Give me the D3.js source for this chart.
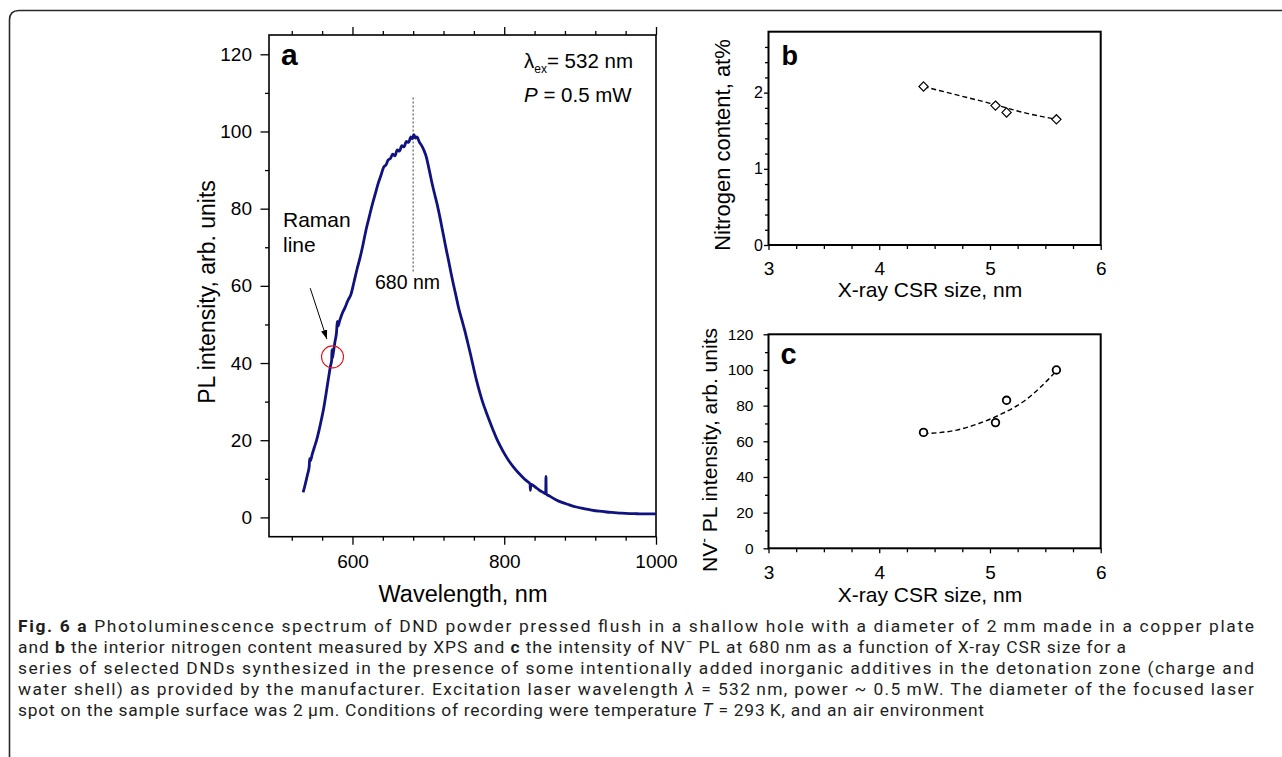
<!DOCTYPE html>
<html>
<head>
<meta charset="utf-8">
<script src="https://cdn.jsdelivr.net/npm/d3@7"></script>
<style>
  html, body { margin: 0; padding: 0; background: #fff; }
  svg { display: block; }
  .ax text { font-family: "Liberation Sans", Arial, sans-serif; fill: #000; }
  .ax line { stroke: #000; stroke-width: 1.3; }
  .ax path { display: none; }
</style>
</head>
<body>
<script>
// ---- Panel a: PL spectrum ----
const wavelength = [535, 537, 539, 541, 543, 543.6, 544.5, 547, 550, 553, 556, 559, 562, 565, 568, 571,
  572.6, 573, 573.4, 575, 577, 579, 580, 581, 583, 586, 590, 594, 598, 602, 606, 610, 614, 618, 622,
  626, 630, 634, 638, 641, 644, 647, 650, 653, 656, 659, 662, 665, 668, 671, 674, 677, 679, 681, 683,
  685, 688, 691, 694, 697, 700, 703, 706, 709, 712, 715, 718, 721, 724, 727, 730, 733, 736, 740, 744,
  748, 752, 756, 760, 764, 768, 772, 776, 780, 785, 790, 795, 800, 806, 812, 818, 824, 830, 834, 834.5,
  835, 840, 846, 852, 854.7, 855, 855.3, 860, 868, 876, 885, 895, 905, 915, 925, 935, 945, 955, 965,
  975, 985, 1000];
const intensity = [6.5, 8.0, 9.6, 11.3, 13.2, 15.2, 14.6, 16.4, 18.3, 20.2, 22.6, 25.3, 28.2, 31.8, 35.6, 39.2,
  40.8, 43.5, 41.2, 43.0, 45.6, 48.0, 50.8, 49.6, 50.9, 52.6, 54.3, 56.2, 57.8, 61.0, 64.3, 67.3, 70.8, 74.6, 77.8,
  81.0, 83.8, 86.6, 88.9, 90.7, 91.3, 92.6, 93.0, 94.1, 93.7, 95.2, 94.9, 96.3, 96.0, 97.4, 97.2, 98.6, 98.1, 99.2, 98.3,
  98.6, 97.3, 96.4, 95.2, 93.6, 91.1, 88.3, 85.6, 83.2, 80.8, 78.0, 75.0, 72.0, 69.0, 66.2, 63.2, 60.4, 57.8, 54.2, 51.3,
  48.4, 45.2, 41.9, 38.4, 35.1, 32.2, 29.6, 27.4, 25.3, 22.8, 20.4, 18.4, 16.6, 14.7, 13.1, 11.7, 10.5, 9.4, 8.7, 7.0,
  8.6, 8.0, 7.1, 6.4, 6.1, 10.6, 6.1, 5.5, 4.6, 3.9, 3.3, 2.7, 2.3, 1.9, 1.6, 1.4, 1.25, 1.1, 1.0,
  0.95, 0.9, 0.9];
const aXMajor = [600, 800, 1000];
const aXMinor = [520, 560, 640, 680, 720, 760, 840, 880, 920, 960];
const aYMajor = [0, 20, 40, 60, 80, 100, 120];
const aYMinor = [10, 30, 50, 70, 90, 110];
const peakWavelength = 680;
const ramanLine = { x: 573.7, y: 41.6 };

// ---- Panel b: nitrogen content vs CSR size ----
const csrSize = [4.4, 5.05, 5.15, 5.6];
const nitrogen = [2.08, 1.83, 1.74, 1.65];
const nitrogenTrendX = [4.4, 4.7, 5.0, 5.3, 5.6];
const nitrogenTrendY = [2.08, 1.97, 1.86, 1.74, 1.65];
const bYMajor = [0, 1, 2];
const bYMinor = [0.2, 0.4, 0.6, 0.8, 1.2, 1.4, 1.6, 1.8, 2.2, 2.4, 2.6];

// ---- Panel c: NV- PL intensity vs CSR size ----
const nvIntensity = [65, 70.5, 83, 100];
const nvTrendX = [4.4, 4.7, 4.9, 5.1, 5.3, 5.45, 5.6];
const nvTrendY = [64.3, 66.3, 70.0, 75.2, 82.2, 90.0, 99.5];
const cYMajor = [0, 20, 40, 60, 80, 100, 120];
const cYMinor = [10, 30, 50, 70, 90, 110];

const csrMajor = [3, 4, 5, 6];
const csrMinor = [3.25, 3.5, 3.75, 4.25, 4.5, 4.75, 5.25, 5.5, 5.75];

// ---- Caption lines ----
const captionLines = [
  { parts: [["Fig. 6 a", "b"], [" Photoluminescence spectrum of DND powder pressed flush in a shallow hole with a diameter of 2\u2009mm made in a copper plate"]], len: 1236 },
  { parts: [["and "], ["b", "b"], [" the interior nitrogen content measured by XPS and "], ["c", "b"], [" the intensity of NV"], ["\u2212", "sup"], [" PL at 680\u2009nm as a function of X-ray CSR size for a"]], len: 1108 },
  { parts: [["series of selected DNDs synthesized in the presence of some intentionally added inorganic additives in the detonation zone (charge and"]], len: 1236 },
  { parts: [["water shell) as provided by the manufacturer. Excitation laser wavelength "], ["\u03bb", "i"], [" = 532\u2009nm, power ~ 0.5\u2009mW. The diameter of the focused laser"]], len: 1236 },
  { parts: [["spot on the sample surface was 2\u2009\u03bcm. Conditions of recording were temperature "], ["T", "i"], [" = 293\u2009K, and an air environment"]], len: 966 }
];

const W = 1282, H = 757;
const FONT = '"Liberation Sans", Arial, sans-serif';
const svg = d3.select("body").append("svg").attr("width", W).attr("height", H);
svg.append("rect").attr("width", W).attr("height", H).attr("fill", "#fff");

// outer figure frame (open at right and bottom)
svg.append("path")
  .attr("d", "M9.5,757 L9.5,20 Q9.5,10.5 19,10.5 L1282,10.5")
  .attr("fill", "none").attr("stroke", "#2a2a2a").attr("stroke-width", 1.6);

const defs = svg.append("defs");
defs.append("marker").attr("id", "arrowHead")
  .attr("viewBox", "0 0 10 10").attr("refX", 10).attr("refY", 5)
  .attr("markerWidth", 9).attr("markerHeight", 9).attr("orient", "auto")
  .attr("markerUnits", "userSpaceOnUse")
  .append("path").attr("d", "M0,1.5 L10,5 L0,8.5 Z").attr("fill", "#000");

function axisPair(g, axisFn, scale, major, minor, majorLen, minorLen, pad, fontSize, labels) {
  g.append("g").attr("class", "ax")
    .call(axisFn(scale).tickValues(minor).tickSize(minorLen).tickFormat(""));
  const gMajor = g.append("g").attr("class", "ax")
    .call(axisFn(scale).tickValues(major).tickSize(majorLen).tickPadding(pad)
      .tickFormat(labels ? d3.format("") : ""));
  gMajor.selectAll("text").attr("font-size", fontSize).attr("font-family", FONT);
  return gMajor;
}

// ================= Panel a =================
const ax = d3.scaleLinear().domain([490, 1000]).range([269, 656]);
const ay = d3.scaleLinear().domain([-5, 125]).range([536.7, 35]);
const pa = svg.append("g");

axisPair(pa.append("g").attr("transform", `translate(0,${ay.range()[0]})`), d3.axisBottom, ax, aXMajor, aXMinor, 8, 4, 9.5, 19, true);
axisPair(pa.append("g").attr("transform", `translate(0,${ay.range()[1]})`), d3.axisTop, ax, aXMajor, aXMinor, 8, 4, 0, 19, false);
axisPair(pa.append("g").attr("transform", `translate(${ax.range()[0]},0)`), d3.axisLeft, ay, aYMajor, aYMinor, 8.5, 4, 8.5, 19, true);

pa.append("rect")
  .attr("x", ax.range()[0]).attr("y", ay.range()[1])
  .attr("width", ax.range()[1] - ax.range()[0]).attr("height", ay.range()[0] - ay.range()[1])
  .attr("fill", "none").attr("stroke", "#000").attr("stroke-width", 1.6);

// dotted marker at the emission maximum
pa.append("line")
  .attr("x1", ax(peakWavelength)).attr("x2", ax(peakWavelength))
  .attr("y1", ay(108.8)).attr("y2", ay(63.3))
  .attr("stroke", "#777").attr("stroke-width", 1.4).attr("stroke-dasharray", "2,2");

const spectrum = wavelength.map((w, i) => [w, intensity[i]]);
pa.append("path").datum(spectrum)
  .attr("d", d3.line().x(d => ax(d[0])).y(d => ay(d[1])).curve(d3.curveMonotoneX))
  .attr("fill", "none").attr("stroke", "#10127f").attr("stroke-width", 2.8)
  .attr("stroke-linejoin", "round");

// Raman line marker
pa.append("circle").attr("cx", ax(ramanLine.x)).attr("cy", ay(ramanLine.y)).attr("r", 11)
  .attr("fill", "none").attr("stroke", "#e8141b").attr("stroke-width", 1.1);
pa.append("line")
  .attr("x1", ax(544.3)).attr("y1", ay(59.4)).attr("x2", ax(566.3)).attr("y2", ay(46.2))
  .attr("stroke", "#000").attr("stroke-width", 1).attr("marker-end", "url(#arrowHead)");

const txt = (g, x, y, s, size, extra) => {
  const t = g.append("text").attr("x", x).attr("y", y).attr("font-family", FONT)
    .attr("font-size", size).attr("fill", "#000").text(s);
  if (extra) extra(t);
  return t;
};

txt(pa, 281, 65, "a", 30, t => t.attr("font-weight", "bold"));
txt(pa, 283, 227, "Raman", 21);
txt(pa, 283, 252, "line", 21);
txt(pa, 375, 289, "680 nm", 19.5);

const lam = pa.append("text").attr("x", 524).attr("y", 67.5).attr("font-family", FONT).attr("font-size", 20.5);
lam.append("tspan").text("\u03bb");
lam.append("tspan").attr("font-size", 12).attr("dy", 5).text("ex");
lam.append("tspan").attr("dy", -5).text("= 532 nm");
const pw = pa.append("text").attr("x", 524).attr("y", 102).attr("font-family", FONT).attr("font-size", 20.5);
pw.append("tspan").attr("font-style", "italic").text("P");
pw.append("tspan").text(" = 0.5 mW");

txt(pa, 463, 601.5, "Wavelength, nm", 23.5, t => t.attr("text-anchor", "middle"));
txt(pa, 0, 0, "PL intensity, arb. units", 23, t => t.attr("text-anchor", "middle")
  .attr("transform", "translate(215,292) rotate(-90)"));

// ================= Panel b =================
const bx = d3.scaleLinear().domain([3, 6]).range([768.5, 1100.7]);
const by = d3.scaleLinear().domain([0, 2.8]).range([245, 31.7]);
const pb = svg.append("g");
axisPair(pb.append("g").attr("transform", `translate(0,${by.range()[0]})`), d3.axisBottom, bx, csrMajor, csrMinor, 5, 4, 12, 19, true);
axisPair(pb.append("g").attr("transform", `translate(${bx.range()[0]},0)`), d3.axisLeft, by, bYMajor, bYMinor, 4.5, 3.5, 1, 16, true);
pb.append("rect")
  .attr("x", bx.range()[0]).attr("y", by.range()[1])
  .attr("width", bx.range()[1] - bx.range()[0]).attr("height", by.range()[0] - by.range()[1])
  .attr("fill", "none").attr("stroke", "#000").attr("stroke-width", 2);

pb.append("path").datum(nitrogenTrendX.map((x, i) => [x, nitrogenTrendY[i]]))
  .attr("d", d3.line().x(d => bx(d[0])).y(d => by(d[1])).curve(d3.curveMonotoneX))
  .attr("fill", "none").attr("stroke", "#000").attr("stroke-width", 1.4).attr("stroke-dasharray", "5,3");
pb.selectAll("path.diamond").data(csrSize.map((x, i) => [x, nitrogen[i]])).join("path")
  .attr("class", "diamond")
  .attr("transform", d => `translate(${bx(d[0])},${by(d[1])})`)
  .attr("d", "M0,-4.6 L4.6,0 L0,4.6 L-4.6,0 Z")
  .attr("fill", "#fff").attr("stroke", "#000").attr("stroke-width", 1.2);

txt(pb, 781.5, 65, "b", 27, t => t.attr("font-weight", "bold"));
txt(pb, 930, 297, "X-ray CSR size, nm", 21, t => t.attr("text-anchor", "middle"));
txt(pb, 0, 0, "Nitrogen content, at%", 22, t => t.attr("text-anchor", "middle")
  .attr("transform", "translate(729.5,145) rotate(-90)"));

// ================= Panel c =================
const cx = d3.scaleLinear().domain([3, 6]).range([768.5, 1100.7]);
const cy = d3.scaleLinear().domain([0, 120]).range([548.3, 334.3]);
const pc = svg.append("g");
axisPair(pc.append("g").attr("transform", `translate(0,${cy.range()[0]})`), d3.axisBottom, cx, csrMajor, csrMinor, 5, 4, 12, 19, true);
axisPair(pc.append("g").attr("transform", `translate(${cx.range()[0]},0)`), d3.axisLeft, cy, cYMajor, cYMinor, 5, 3.5, 10, 15.5, true);
pc.append("rect")
  .attr("x", cx.range()[0]).attr("y", cy.range()[1])
  .attr("width", cx.range()[1] - cx.range()[0]).attr("height", cy.range()[0] - cy.range()[1])
  .attr("fill", "none").attr("stroke", "#000").attr("stroke-width", 2);

pc.append("path").datum(nvTrendX.map((x, i) => [x, nvTrendY[i]]))
  .attr("d", d3.line().x(d => cx(d[0])).y(d => cy(d[1])).curve(d3.curveMonotoneX))
  .attr("fill", "none").attr("stroke", "#000").attr("stroke-width", 1.4).attr("stroke-dasharray", "5,3");
pc.selectAll("circle.pt").data(csrSize.map((x, i) => [x, nvIntensity[i]])).join("circle")
  .attr("class", "pt")
  .attr("cx", d => cx(d[0])).attr("cy", d => cy(d[1])).attr("r", 3.8)
  .attr("fill", "#fff").attr("stroke", "#000").attr("stroke-width", 1.8);

txt(pc, 780.5, 363.5, "c", 29, t => t.attr("font-weight", "bold"));
txt(pc, 930, 602, "X-ray CSR size, nm", 21, t => t.attr("text-anchor", "middle"));
const cyt = pc.append("text").attr("text-anchor", "middle").attr("font-family", FONT).attr("font-size", 21)
  .attr("transform", "translate(717,450) rotate(-90)");
cyt.append("tspan").text("NV");
cyt.append("tspan").attr("font-size", 14).attr("dy", -8).text("-");
cyt.append("tspan").attr("dy", 8).text(" PL intensity, arb. units");

// ================= Caption =================
const CAP_FONT = 'Roboto, "Open Sans", sans-serif';
const capBase = [631.5, 652.5, 673.5, 694.5, 715.5];
captionLines.forEach((line, i) => {
  const t = svg.append("text").attr("x", 18).attr("y", capBase[i])
    .attr("font-family", CAP_FONT).attr("font-size", 17.4).attr("fill", "#1e1e1e")
    .attr("textLength", line.len).attr("lengthAdjust", "spacing");
  let raised = false;
  line.parts.forEach(p => {
    const s = t.append("tspan").text(p[0]);
    if (p[1] === "b") s.attr("font-weight", "bold");
    if (p[1] === "i") s.attr("font-style", "italic");
    if (p[1] === "sup") { s.attr("font-size", 11.5).attr("dy", -6.5); raised = true; }
    else if (raised) { s.attr("dy", 6.5); raised = false; }
  });
});
</script>
</body>
</html>
